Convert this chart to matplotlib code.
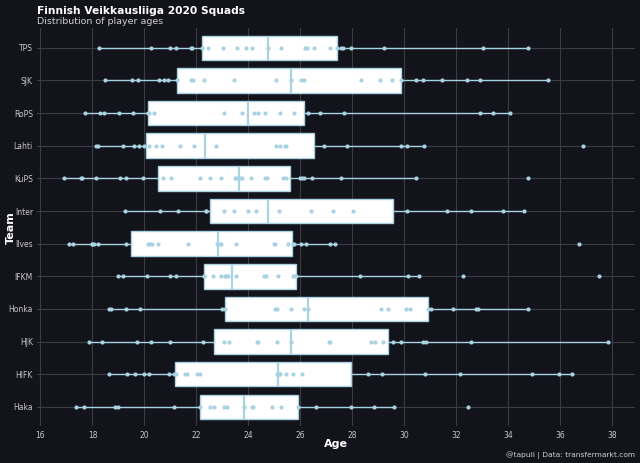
import numpy as np
import matplotlib
matplotlib.use('Agg')
import matplotlib.pyplot as plt

# teams, top to bottom as in the chart
teams = ['TPS', 'SJK', 'RoPS', 'Lahti', 'KuPS', 'Inter', 'Ilves', 'IFKM',
         'Honka', 'HJK', 'HIFK', 'Haka']

# player ages per team
tps = [18.27, 20.26, 20.97, 21.22, 21.78, 21.83, 22.20, 22.45, 23.04, 23.58, 23.90,
       24.15, 24.76, 25.26, 26.19, 26.25, 26.54, 27.13, 27.42, 27.55, 27.64, 27.95,
       29.23, 33.04, 34.78]
sjk = [18.50, 19.52, 19.75, 20.56, 20.75, 20.91, 21.27, 21.78, 21.86, 22.29, 23.45,
       25.05, 25.63, 26.04, 26.13, 28.32, 29.05, 29.54, 29.86, 30.46, 30.72, 31.47,
       32.41, 32.90, 35.55]
rops = [17.73, 18.29, 18.45, 19.04, 19.56, 20.12, 20.12, 20.18, 20.35, 23.05, 23.76,
        24.22, 24.37, 24.63, 25.22, 25.76, 26.29, 26.74, 27.69, 32.92, 33.41, 34.08]
lahti = [18.15, 18.23, 19.17, 19.61, 19.81, 20.00, 20.18, 20.43, 20.68, 21.36, 21.92,
         22.77, 25.05, 25.23, 25.41, 25.45, 26.91, 27.79, 29.86, 30.10, 30.77, 36.87]
kups = [16.92, 17.56, 17.61, 18.15, 19.05, 19.31, 19.95, 20.72, 21.04, 22.13, 22.52,
        22.94, 23.47, 23.58, 23.67, 23.76, 24.09, 24.65, 24.70, 25.35, 25.46, 26.00,
        26.08, 26.14, 26.47, 27.56, 30.47, 34.75]
inter = [19.25, 20.59, 21.28, 22.36, 22.36, 23.05, 23.44, 23.97, 24.31, 25.18, 26.41,
         27.27, 28.02, 30.10, 31.65, 32.56, 33.80, 34.60]
ilves = [17.08, 17.26, 17.99, 17.99, 18.06, 18.20, 19.28, 20.14, 20.20, 20.28, 20.54,
         21.68, 22.80, 22.90, 22.93, 23.51, 24.99, 25.04, 25.54, 25.73, 25.76, 26.02,
         26.22, 27.14, 27.33, 36.71]
ifkm = [18.97, 19.18, 20.11, 20.99, 21.20, 22.31, 22.31, 22.64, 22.94, 23.09, 23.15,
        23.22, 23.52, 24.60, 24.67, 25.15, 25.72, 25.81, 25.85, 28.28, 30.15, 30.56,
        32.27, 37.48]
honka = [18.65, 18.72, 19.29, 19.83, 22.97, 23.09, 25.04, 25.10, 25.63, 26.15, 26.31,
         29.11, 29.38, 30.08, 30.22, 30.93, 31.04, 31.88, 32.77, 32.85, 34.76]
hjk = [17.85, 18.35, 19.73, 20.26, 20.99, 22.27, 23.08, 23.26, 24.32, 24.37, 25.09,
       25.64, 27.09, 27.14, 28.72, 28.87, 29.20, 29.55, 29.87, 30.72, 30.85, 32.59,
       37.83]
hifk = [18.64, 19.33, 19.63, 19.97, 20.18, 20.95, 21.15, 21.23, 21.58, 21.65, 22.01,
        22.14, 25.10, 25.17, 25.18, 25.22, 25.46, 25.73, 26.08, 28.60, 29.14, 30.81,
        32.13, 34.93, 35.95, 36.47]
haka = [17.38, 17.69, 18.87, 19.00, 21.14, 22.14, 22.54, 22.67, 23.05, 23.19, 23.82,
        24.15, 24.18, 24.91, 25.26, 25.90, 26.61, 27.97, 28.83, 29.60, 32.47]

ages = [tps, sjk, rops, lahti, kups, inter, ilves, ifkm, honka, hjk, hifk, haka]

bg = '#12131b'
blue = '#a9d3e2'
grid = '#3c3d41'

fig = plt.figure(figsize=(6.4, 4.63), dpi=100, facecolor=bg)
ax = fig.add_axes([0.058, 0.079, 0.934, 0.86])
ax.set_facecolor(bg)

# bottom team gets position 0
pos = np.arange(len(teams))[::-1]

ax.boxplot(ages, positions=pos, vert=False, widths=0.75, showfliers=False,
           patch_artist=True, manage_ticks=False,
           boxprops=dict(facecolor='white', edgecolor=blue, linewidth=1.0),
           medianprops=dict(color=blue, linewidth=1.6),
           whiskerprops=dict(color=blue, linewidth=1.0),
           capprops=dict(linewidth=0), zorder=2)

for p, a in zip(pos, ages):
    ax.scatter(a, np.full(len(a), p), s=9, color=blue, zorder=3, linewidths=0)

ax.set_xlim(15.87, 38.88)
ax.set_ylim(-0.6, len(teams) - 0.4)
ax.set_xticks(np.arange(16, 39, 2))
ax.set_yticks(pos)
ax.set_yticklabels(teams)
ax.grid(True, color=grid, linewidth=0.8, zorder=0)
ax.set_axisbelow(True)
for s in ax.spines.values():
    s.set_visible(False)
ax.tick_params(length=0, colors='#c9c9c9', labelsize=5.5, pad=3)

ax.set_xlabel('Age', color='white', fontsize=8, fontweight='bold')
ax.set_ylabel('Team', color='white', fontsize=8, fontweight='bold')
ax.xaxis.set_label_coords(0.5, -0.032)
ax.yaxis.set_label_coords(-0.035, 0.5)

fig.text(0.058, 0.976, 'Finnish Veikkausliiga 2020 Squads', color='white',
         fontsize=7.7, fontweight='bold', va='center', ha='left')
fig.text(0.058, 0.953, 'Distribution of player ages', color='#cfcfcf',
         fontsize=6.8, va='center', ha='left')
fig.text(0.992, 0.017, '@tapuli | Data: transfermarkt.com', color='#d0d0d0',
         fontsize=5.4, va='center', ha='right')

fig.savefig('out.png', dpi=100, facecolor=bg)
